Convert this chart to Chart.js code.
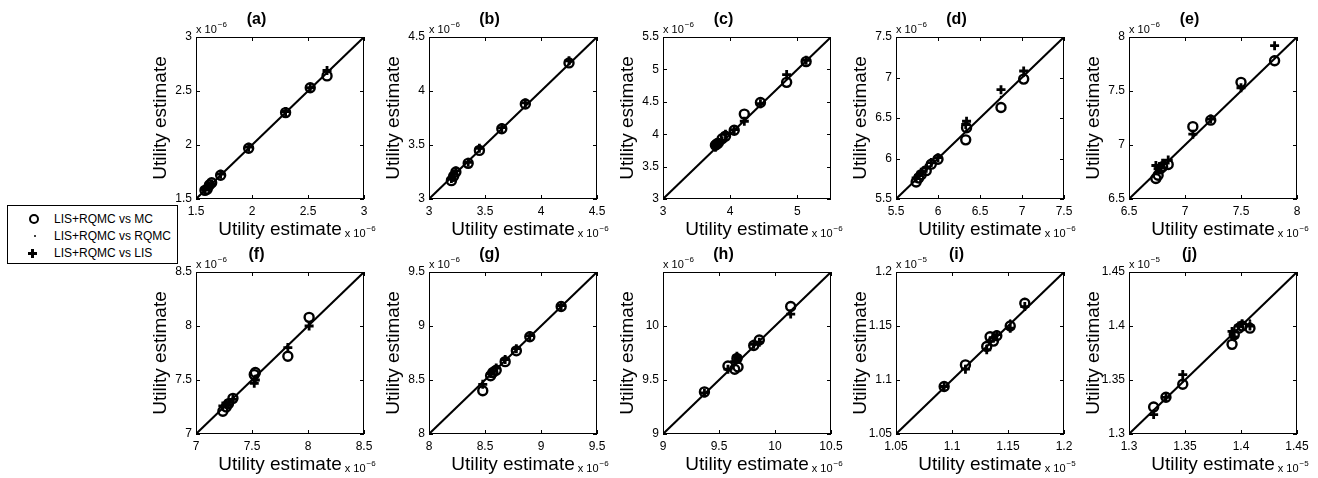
<!DOCTYPE html>
<html><head><meta charset="utf-8">
<script src="https://cdn.jsdelivr.net/npm/chart.js@4.4.0/dist/chart.umd.min.js"></script>
<style>
body{margin:0;background:#fff;width:1318px;height:478px;position:relative;overflow:hidden;font-family:"Liberation Sans",Arial,sans-serif;}
canvas.pc{position:absolute;}
#legend{position:absolute;left:7px;top:205px;width:169px;height:57px;border:1px solid #000;background:#fff;font-size:12px;color:#000;}
#legend .row{position:absolute;left:0;width:169px;height:16px;line-height:16px;}
#legend .txt{position:absolute;left:46px;top:0;white-space:nowrap;}
#legend .mk{position:absolute;}
.mc{left:21px;top:3px;width:6px;height:6px;border:2px solid #000;border-radius:50%;}
.rq{left:26px;top:7px;width:2px;height:2px;background:#000;border-radius:50%;}
.lh{left:20px;top:7px;width:9px;height:3px;background:#000;}
.lv{left:23px;top:4px;width:3px;height:9px;background:#000;}
</style></head><body>
<div id="legend">
  <div class="row" style="top:5px"><div class="mk mc"></div><span class="txt">LIS+RQMC vs MC</span></div>
  <div class="row" style="top:22px"><div class="mk rq"></div><span class="txt">LIS+RQMC vs RQMC</span></div>
  <div class="row" style="top:39px"><div class="mk lh"></div><div class="mk lv"></div><span class="txt">LIS+RQMC vs LIS</span></div>
</div>
<script>
// ---------- data ----------
const panelLabels = ['(a)','(b)','(c)','(d)','(e)','(f)','(g)','(h)','(i)','(j)'];
const axisMin = [1.5, 3, 3, 5.5, 6.5, 7, 8, 9, 1.05, 1.3];
const axisMax = [3, 4.5, 5.5, 7.5, 8, 8.5, 9.5, 10.5, 1.2, 1.45];
const exponents = [-6, -6, -6, -6, -6, -6, -6, -6, -5, -5];
const xTicks = [
  [1.5, 2, 2.5, 3], [3, 3.5, 4, 4.5], [3, 4, 5], [5.5, 6, 6.5, 7, 7.5], [6.5, 7, 7.5, 8],
  [7, 7.5, 8, 8.5], [8, 8.5, 9, 9.5], [9, 9.5, 10, 10.5], [1.05, 1.1, 1.15, 1.2], [1.3, 1.35, 1.4, 1.45]
];
const yTicks = [
  [1.5, 2, 2.5, 3], [3, 3.5, 4, 4.5], [3, 3.5, 4, 4.5, 5, 5.5], [5.5, 6, 6.5, 7, 7.5], [6.5, 7, 7.5, 8],
  [7, 7.5, 8, 8.5], [8, 8.5, 9, 9.5], [9, 9.5, 10], [1.05, 1.1, 1.15, 1.2], [1.3, 1.35, 1.4, 1.45]
];
// x: LIS+RQMC estimate; mc / rqmc / lis: the compared estimate
const xA = [1.58, 1.60, 1.62, 1.64, 1.72, 1.97, 2.30, 2.52, 2.67];
const mcA = [1.58, 1.59, 1.63, 1.65, 1.72, 1.97, 2.30, 2.53, 2.64];
const rqmcA = [1.58, 1.60, 1.62, 1.64, 1.72, 1.97, 2.30, 2.52, 2.67];
const lisA = [1.59, 1.61, 1.62, 1.64, 1.73, 1.98, 2.31, 2.53, 2.69];

const xB = [3.20, 3.22, 3.24, 3.35, 3.45, 3.65, 3.86, 4.25];
const mcB = [3.17, 3.21, 3.25, 3.33, 3.45, 3.65, 3.88, 4.26];
const rqmcB = [3.20, 3.22, 3.24, 3.35, 3.46, 3.65, 3.87, 4.25];
const lisB = [3.19, 3.23, 3.26, 3.34, 3.47, 3.66, 3.89, 4.28];

const xC = [3.78, 3.80, 3.82, 3.88, 3.93, 4.06, 4.21, 4.45, 4.84, 5.13];
const mcC = [3.83, 3.85, 3.86, 3.93, 3.97, 4.06, 4.31, 4.49, 4.80, 5.12];
const rqmcC = [3.79, 3.81, 3.83, 3.89, 3.94, 4.06, 4.22, 4.46, 4.85, 5.13];
const lisC = [3.80, 3.84, 3.87, 3.90, 4.00, 4.07, 4.20, 4.47, 4.92, 5.14];

const xD = [5.74, 5.77, 5.80, 5.86, 5.92, 6.00, 6.33, 6.34, 6.75, 7.02];
const mcD = [5.71, 5.76, 5.80, 5.85, 5.93, 5.99, 6.23, 6.38, 6.63, 6.98];
const rqmcD = [5.74, 5.77, 5.81, 5.86, 5.92, 6.00, 6.33, 6.35, 6.76, 7.02];
const lisD = [5.76, 5.79, 5.83, 5.88, 5.95, 6.01, 6.42, 6.46, 6.85, 7.08];

const xE = [6.74, 6.76, 6.78, 6.80, 6.85, 7.07, 7.23, 7.50, 7.80];
const mcE = [6.69, 6.72, 6.78, 6.80, 6.82, 7.17, 7.23, 7.58, 7.78];
const rqmcE = [6.74, 6.76, 6.78, 6.80, 6.86, 7.10, 7.25, 7.52, 7.82];
const lisE = [6.81, 6.78, 6.79, 6.83, 6.86, 7.10, 7.24, 7.53, 7.92];

const xF = [7.24, 7.27, 7.29, 7.33, 7.52, 7.53, 7.82, 8.01];
const mcF = [7.21, 7.25, 7.28, 7.33, 7.55, 7.57, 7.72, 8.08];
const rqmcF = [7.24, 7.27, 7.29, 7.34, 7.52, 7.54, 7.81, 8.03];
const lisF = [7.26, 7.28, 7.27, 7.32, 7.47, 7.50, 7.80, 8.00];

const xG = [8.48, 8.55, 8.57, 8.60, 8.68, 8.78, 8.90, 9.18];
const mcG = [8.40, 8.54, 8.57, 8.59, 8.67, 8.77, 8.90, 9.18];
const rqmcG = [8.47, 8.55, 8.57, 8.60, 8.68, 8.78, 8.90, 9.18];
const lisG = [8.46, 8.56, 8.58, 8.61, 8.69, 8.79, 8.91, 9.19];

const xH = [9.37, 9.58, 9.64, 9.66, 9.67, 9.81, 9.86, 10.14];
const mcH = [9.39, 9.63, 9.60, 9.70, 9.62, 9.82, 9.87, 10.18];
const rqmcH = [9.37, 9.59, 9.65, 9.67, 9.68, 9.81, 9.86, 10.14];
const lisH = [9.38, 9.60, 9.67, 9.72, 9.70, 9.83, 9.85, 10.11];

const xI = [1.093, 1.112, 1.131, 1.134, 1.137, 1.140, 1.152, 1.165];
const mcI = [1.094, 1.114, 1.131, 1.140, 1.136, 1.141, 1.150, 1.171];
const rqmcI = [1.093, 1.113, 1.132, 1.135, 1.138, 1.141, 1.155, 1.175];
const lisI = [1.094, 1.110, 1.128, 1.136, 1.139, 1.142, 1.148, 1.168];

const xJ = [1.322, 1.333, 1.348, 1.392, 1.394, 1.398, 1.401, 1.408];
const mcJ = [1.325, 1.334, 1.346, 1.383, 1.392, 1.398, 1.400, 1.398];
const rqmcJ = [1.322, 1.333, 1.349, 1.392, 1.395, 1.399, 1.403, 1.405];
const lisJ = [1.318, 1.334, 1.355, 1.395, 1.390, 1.400, 1.402, 1.400];

const panelData = [
  [xA, mcA, rqmcA, lisA], [xB, mcB, rqmcB, lisB], [xC, mcC, rqmcC, lisC], [xD, mcD, rqmcD, lisD], [xE, mcE, rqmcE, lisE],
  [xF, mcF, rqmcF, lisF], [xG, mcG, rqmcG, lisG], [xH, mcH, rqmcH, lisH], [xI, mcI, rqmcI, lisI], [xJ, mcJ, rqmcJ, lisJ]
];

// ---------- layout ----------
const FONT = '"Liberation Sans", Arial, Helvetica, sans-serif';
const TITLE_SIZE = 19;
const plotLefts = [196, 429, 663, 896, 1129];
const plotTops = [37, 272];
const PW = 168, PH = 162, YW = 47, XH = 42, TOP = 36, RP = 16;

const fmt = v => String(parseFloat(v.toFixed(4)));

const boxPlugin = {
  id: 'matlabBox',
  afterDatasetsDraw(chart) {
    const {ctx, chartArea: a, scales: {x, y}} = chart;
    ctx.save();
    ctx.strokeStyle = '#000';
    ctx.lineWidth = 1;
    ctx.strokeRect(a.left + 0.5, a.top + 0.5, a.right - a.left - 1, a.bottom - a.top - 1);
    const L = 4;
    ctx.beginPath();
    x.ticks.forEach(t => {
      const px = Math.round(x.getPixelForValue(t.value)) + 0.5;
      ctx.moveTo(px, a.bottom); ctx.lineTo(px, a.bottom - L);
      ctx.moveTo(px, a.top); ctx.lineTo(px, a.top + L);
    });
    y.ticks.forEach(t => {
      const py = Math.round(y.getPixelForValue(t.value)) + 0.5;
      ctx.moveTo(a.left, py); ctx.lineTo(a.left + L, py);
      ctx.moveTo(a.right, py); ctx.lineTo(a.right - L, py);
    });
    ctx.stroke();
    ctx.restore();
  },
  afterDraw(chart) {
    const {ctx, chartArea: a} = chart;
    const e = chart.options.plugins.matlabBox.exp;
    const drawExp = (x0, yb) => {
      ctx.save();
      ctx.fillStyle = '#000';
      ctx.textBaseline = 'alphabetic';
      ctx.textAlign = 'left';
      ctx.font = '11px ' + FONT;
      ctx.fillText('x 10', x0, yb);
      const w = ctx.measureText('x 10').width;
      ctx.font = '8px ' + FONT;
      ctx.fillText('\u2212' + Math.abs(e), x0 + w + 1, yb - 6);
      ctx.restore();
    };
    drawExp(a.left, a.top - 4);
    ctx.save();
    ctx.font = TITLE_SIZE + 'px ' + FONT;
    const tw = ctx.measureText('Utility estimate').width;
    ctx.restore();
    drawExp((a.left + a.right) / 2 + tw / 2 + 3, a.bottom + 38);
  }
};

panelLabels.forEach((lab, k) => {
  const col = k % 5, row = Math.floor(k / 5);
  const cv = document.createElement('canvas');
  cv.className = 'pc';
  const W = YW + PW + RP + 20, H = TOP + PH + XH;
  cv.width = W; cv.height = H;
  cv.style.left = (plotLefts[col] - YW) + 'px';
  cv.style.top = (plotTops[row] - TOP) + 'px';
  cv.style.width = W + 'px'; cv.style.height = H + 'px';
  document.body.appendChild(cv);
  const [xs, mc, rq, li] = panelData[k];
  const mn = axisMin[k], mx = axisMax[k];
  const pts = arr => xs.map((xv, i) => ({x: xv, y: arr[i]}));
  new Chart(cv.getContext('2d'), {
    type: 'scatter',
    data: {datasets: [
      {type: 'line', data: [{x: mn, y: mn}, {x: mx, y: mx}], borderColor: '#000', borderWidth: 2, pointRadius: 0, fill: false, order: 4},
      {label: 'LIS+RQMC vs MC', data: pts(mc), pointStyle: 'circle', pointRadius: 4.5, borderWidth: 2.4, borderColor: '#000', backgroundColor: 'rgba(0,0,0,0)', order: 3},
      {label: 'LIS+RQMC vs RQMC', data: pts(rq), pointStyle: 'circle', pointRadius: 1.3, borderWidth: 0, borderColor: '#000', backgroundColor: '#000', order: 2},
      {label: 'LIS+RQMC vs LIS', data: pts(li), pointStyle: 'cross', pointRadius: 4.5, borderWidth: 2.8, borderColor: '#000', backgroundColor: '#000', order: 1}
    ]},
    options: {
      responsive: false, animation: false, events: [],
      layout: {padding: {left: 0, right: RP + 20, top: 0, bottom: 0}},
      plugins: {
        legend: {display: false}, tooltip: {enabled: false},
        title: {display: true, text: lab, color: '#000', font: {family: FONT, size: 16, weight: 'bold', lineHeight: 1}, padding: {top: 11, bottom: 9}},
        matlabBox: {exp: exponents[k]}
      },
      scales: {
        x: {
          type: 'linear', min: mn, max: mx,
          afterBuildTicks: s => { s.ticks = xTicks[k].map(v => ({value: v})); },
          afterFit: s => { s.height = XH; },
          grid: {display: false, drawTicks: false, tickLength: 0}, border: {display: false},
          ticks: {color: '#000', font: {family: FONT, size: 12}, padding: 5, maxRotation: 0, autoSkip: false, callback: v => fmt(v)},
          title: {display: true, text: 'Utility estimate', color: '#000', font: {family: FONT, size: TITLE_SIZE}, padding: 0}
        },
        y: {
          type: 'linear', min: mn, max: mx,
          afterBuildTicks: s => { s.ticks = yTicks[k].map(v => ({value: v})); },
          afterFit: s => { s.width = YW; },
          grid: {display: false, drawTicks: false, tickLength: 0}, border: {display: false},
          ticks: {color: '#000', font: {family: FONT, size: 12}, padding: 4, autoSkip: false, callback: v => fmt(v)},
          title: {display: true, text: 'Utility estimate', color: '#000', font: {family: FONT, size: TITLE_SIZE}, padding: 0}
        }
      }
    },
    plugins: [boxPlugin]
  });
});
</script>
</body></html>
